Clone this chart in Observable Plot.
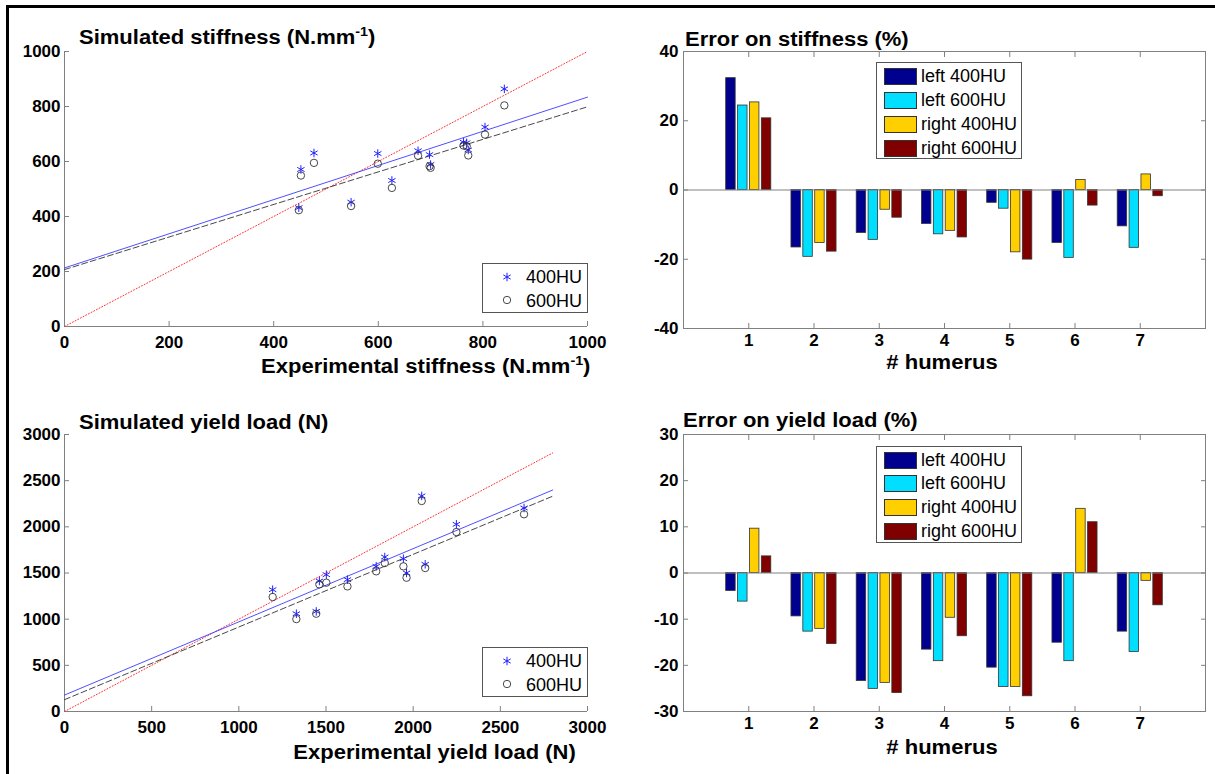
<!DOCTYPE html>
<html><head><meta charset="utf-8">
<script src="https://cdn.jsdelivr.net/npm/d3@7"></script>
<script src="https://cdn.jsdelivr.net/npm/@observablehq/plot@0.6"></script>
<style>
body{margin:0;background:#fff;}
#fig{position:relative;width:1215px;height:774px;overflow:hidden;font-family:"Liberation Sans",Arial,sans-serif;background:#fff;color:#000}
.panel{position:absolute}
.t{position:absolute;font-weight:bold;font-size:20px;line-height:1;white-space:nowrap}
.t sup{font-size:13px;vertical-align:0;position:relative;top:-8px}
.leg{position:absolute;box-sizing:border-box;border:1px solid #555;background:#fff;font-size:18px;}
.leg .row{position:absolute;line-height:1;white-space:nowrap}
.leg .sw{position:absolute;box-sizing:border-box;border:1px solid #333}
.leg svg{position:absolute;overflow:visible}
#border{position:absolute;left:6px;top:5px;width:1215px;height:774px;border-left:3px solid #000;border-top:3px solid #000}
</style></head>
<body><div id="fig"><div id="border"></div></div>
<script>
// ---------- data ----------
const stiffExp    = [448, 452, 477, 548, 599, 626, 676, 698, 700, 763, 769, 772, 804, 841];
const stiffSim400 = [432, 571, 631, 452, 629, 531, 639, 625, 589, 670, 668, 642, 725, 864];
const stiffSim600 = [423, 549, 595, 438, 592, 504, 621, 583, 577, 658, 655, 622, 698, 804];
const stiffFit400 = {intercept: 213, slope: 0.621};
const stiffFit600 = {intercept: 207, slope: 0.592};
const stiffLineX = [0, 1000];
const stiffTicks = [0, 200, 400, 600, 800, 1000];

const yieldExp    = [1194, 1330, 1444, 1462, 1502, 1623, 1788, 1837, 1944, 1962, 2049, 2069, 2248, 2636];
const yieldSim400 = [1319, 1059, 1084, 1413, 1482, 1428, 1572, 1673, 1655, 1500, 2335, 1594, 2027, 2204];
const yieldSim600 = [1240, 1001, 1059, 1377, 1395, 1355, 1518, 1608, 1572, 1449, 2280, 1554, 1944, 2136];
const yieldFit400 = {intercept: 178, slope: 0.793};
const yieldFit600 = {intercept: 128, slope: 0.787};
const yieldLineX = [0, 2800];
const yieldTicks = [0, 500, 1000, 1500, 2000, 2500, 3000];

const humerus = [1, 2, 3, 4, 5, 6, 7];
const seriesNames = ["left 400HU", "left 600HU", "right 400HU", "right 600HU"];
const seriesColors = ["#00008f", "#00dfff", "#ffcf00", "#800000"];
const errStiffLeft400  = [32.3, -16.6, -12.4, -9.8, -3.7, -15.3, -10.5];
const errStiffLeft600  = [24.4, -19.3, -14.4, -12.8, -5.4, -19.6, -16.7];
const errStiffRight400 = [25.3, -15.3, -5.7, -11.8, -18.0, 2.9, 4.5];
const errStiffRight600 = [20.7, -17.8, -8.0, -13.7, -20.1, -4.5, -1.8];
const errYieldLeft400  = [-3.9, -9.4, -23.4, -16.6, -20.5, -15.1, -12.7];
const errYieldLeft600  = [-6.2, -12.7, -25.1, -19.1, -24.7, -19.1, -17.1];
const errYieldRight400 = [9.6, -12.1, -23.8, -9.7, -24.7, 13.9, -1.7];
const errYieldRight600 = [3.6, -15.4, -26.0, -13.7, -26.7, 11.0, -7.0];
const errStiffTicks = [-40, -20, 0, 20, 40];
const errYieldTicks = [-30, -20, -10, 0, 10, 20, 30];

// ---------- helpers ----------
const AX = "#808080";
const baseStyle = {fontFamily: "Liberation Sans, Arial, sans-serif", fontSize: "17px", fontWeight: "bold", color: "#000", background: "transparent", overflow: "visible"};
const fig = document.getElementById("fig");
function place(node, left, top) {
  const d = document.createElement("div");
  d.className = "panel"; d.style.left = left + "px"; d.style.top = top + "px";
  d.appendChild(node); fig.appendChild(d);
}
function text(html, css) {
  const d = document.createElement("div");
  d.className = "t"; d.innerHTML = html; Object.assign(d.style, css); fig.appendChild(d);
}
const fmt = d => String(d);

function scatter(exp, s400, s600, fit400, fit600, lineX, ticks, mt, mb) {
  const pts = exp.map((x, i) => ({x, a: s400[i], b: s600[i]}));
  const fl = f => lineX.map(x => ({x, y: f.intercept + f.slope * x}));
  const dom = [ticks[0], ticks[ticks.length - 1]];
  return Plot.plot({
    width: 607, height: 387, marginLeft: 64, marginRight: 20, marginTop: mt, marginBottom: mb,
    x: {domain: dom}, y: {domain: dom},
    style: baseStyle,
    marks: [
      Plot.ruleX([dom[0]], {stroke: AX}),
      Plot.ruleY([dom[0]], {stroke: AX}),
      Plot.axisX({ticks, tickSize: -5, tickPadding: 14, stroke: AX, tickFormat: fmt, label: null}),
      Plot.axisY({ticks, tickSize: -5, tickPadding: 9, stroke: AX, tickFormat: fmt, label: null}),
      Plot.line(lineX.map(x => ({x, y: x})), {x: "x", y: "y", stroke: "#ff3030", strokeWidth: 1, strokeDasharray: "1,2"}),
      Plot.line(fl(fit400), {x: "x", y: "y", stroke: "#3b3bff", strokeWidth: 0.9}),
      Plot.line(fl(fit600), {x: "x", y: "y", stroke: "#333", strokeWidth: 0.9, strokeDasharray: "6,3"}),
      Plot.dot(pts, {x: "x", y: "a", symbol: "asterisk", r: 4, stroke: "#2020ff", strokeWidth: 1}),
      Plot.dot(pts, {x: "x", y: "b", r: 3.7, stroke: "#333", strokeWidth: 0.9})
    ]
  });
}

function bars(vals, ticks, mt, mb) {
  const rows = [];
  const gw = 0.182, bw = 0.145;
  vals.forEach((arr, k) => arr.forEach((v, i) => rows.push({h: humerus[i], k, s: seriesNames[k], v})));
  const dom = [ticks[0], ticks[ticks.length - 1]];
  return Plot.plot({
    width: 608, height: 387, marginLeft: 76, marginRight: 10, marginTop: mt, marginBottom: mb,
    x: {domain: [0, 8]}, y: {domain: dom},
    color: {domain: seriesNames, range: seriesColors},
    style: baseStyle,
    marks: [
      Plot.rect(rows, {
        x1: d => d.h + (d.k - 1.5) * gw - bw / 2,
        x2: d => d.h + (d.k - 1.5) * gw + bw / 2,
        y1: 0, y2: "v", fill: "s", stroke: "#333", strokeWidth: 0.8
      }),
      Plot.ruleY([0], {stroke: AX}),
      Plot.frame({stroke: AX}),
      Plot.axisX({ticks: humerus, tickSize: -5, tickPadding: 10, stroke: AX, tickFormat: fmt, label: null}),
      Plot.axisX({anchor: "top", ticks: humerus, tickSize: -5, stroke: AX, tickFormat: () => "", label: null}),
      Plot.axisY({ticks, tickSize: -5, tickPadding: 10, stroke: AX, tickFormat: fmt, label: null}),
      Plot.axisY({anchor: "right", ticks, tickSize: -5, stroke: AX, tickFormat: () => "", label: null})
    ]
  });
}

function scatterLegend(left, top) {
  const d = document.createElement("div");
  d.className = "leg";
  Object.assign(d.style, {left: left + "px", top: top + "px", width: "106px", height: "50px"});
  const star = d3.symbol(d3.symbolAsterisk, 4 * 4 * Math.PI)();
  d.innerHTML =
    `<svg style="left:24px;top:13px" width="1" height="1"><path d="${star}" fill="none" stroke="#2020ff"/></svg>` +
    `<div class="row" style="left:43px;top:4px">400HU</div>` +
    `<svg style="left:24px;top:36px" width="1" height="1"><circle r="3.7" fill="none" stroke="#333" stroke-width="0.9"/></svg>` +
    `<div class="row" style="left:43px;top:28px">600HU</div>`;
  fig.appendChild(d);
}
function barLegend(left, top, centers) {
  const d = document.createElement("div");
  d.className = "leg";
  Object.assign(d.style, {left: left + "px", top: top + "px", width: "146px", height: "97px"});
  d.innerHTML = seriesNames.map((n, i) =>
    `<div class="sw" style="left:7px;top:${centers[i] - 8.5}px;width:33px;height:17px;background:${seriesColors[i]}"></div>` +
    `<div class="row" style="left:44px;top:${centers[i] - 9}px">${n}</div>`).join("");
  fig.appendChild(d);
}

// ---------- panels ----------
place(scatter(stiffExp, stiffSim400, stiffSim600, stiffFit400, stiffFit600, stiffLineX, stiffTicks, 51, 61), 0, 0);
place(bars([errStiffLeft400, errStiffLeft600, errStiffRight400, errStiffRight600], errStiffTicks, 51, 59), 607, 0);
place(scatter(yieldExp, yieldSim400, yieldSim600, yieldFit400, yieldFit600, yieldLineX, yieldTicks, 47, 63), 0, 387);
place(bars([errYieldLeft400, errYieldLeft600, errYieldRight400, errYieldRight600], errYieldTicks, 47, 63), 607, 387);

// ---------- text ----------
const L = {transform: "scaleX(1.1)", transformOrigin: "left"};
const R = {transform: "scaleX(1.1)", transformOrigin: "right"};
const C = {transform: "translateX(-50%) scaleX(1.1)", transformOrigin: "center"};
text("Simulated stiffness (N.mm<sup>-1</sup>)", {left: "79px", top: "27px", ...L});
text("Experimental stiffness (N.mm<sup>-1</sup>)", {right: "625px", top: "356px", ...R});
text("Error on stiffness (%)", {left: "685px", top: "29px", ...L});
text("# humerus", {left: "942px", top: "352px", ...C});
text("Simulated yield load (N)", {left: "79px", top: "412px", ...L});
text("Experimental yield load (N)", {right: "639px", top: "742px", ...R});
text("Error on yield load (%)", {left: "683px", top: "410px", ...L});
text("# humerus", {left: "942px", top: "737px", ...C});

scatterLegend(482, 263);
scatterLegend(482, 647);
barLegend(876, 62, [13, 37, 61, 85]);
barLegend(876, 446, [13, 36, 60, 84]);
</script></body></html>
